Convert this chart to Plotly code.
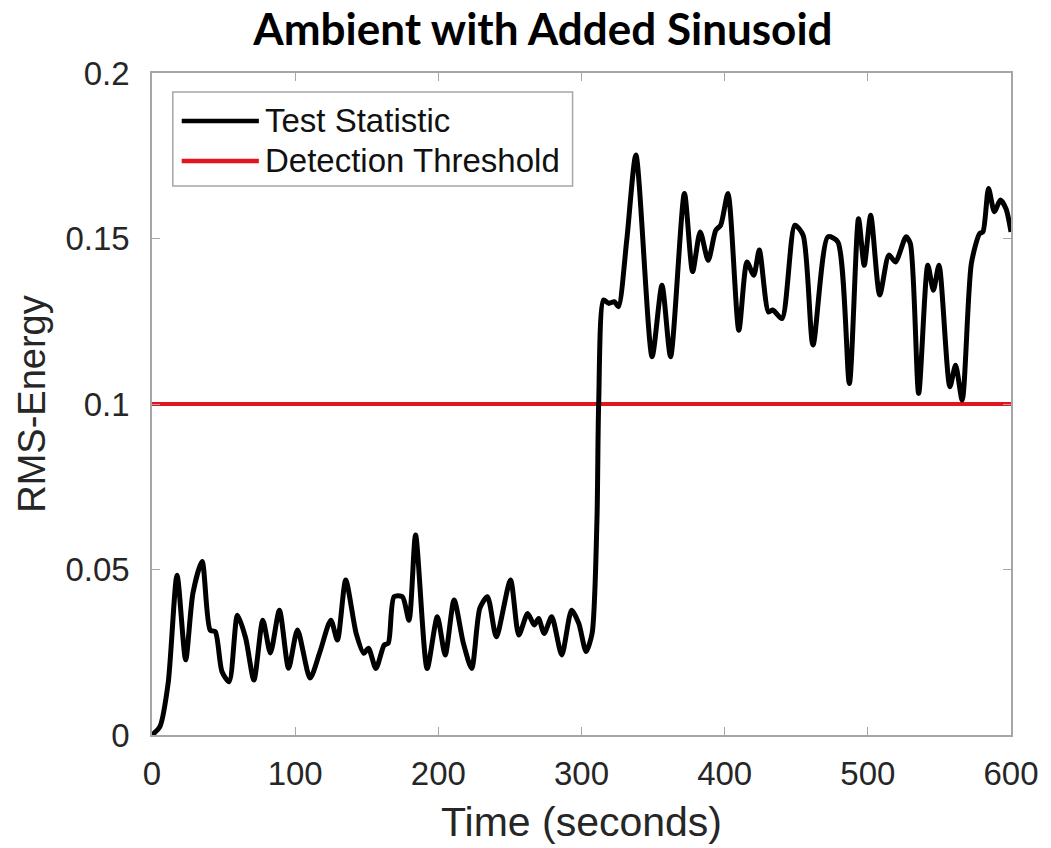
import plotly.graph_objects as go

# Test statistic (RMS energy) over time
time_s = [0, 5.5, 11.3, 17.5, 23.5, 28.6, 35, 40.6, 44.2, 48.9, 53.9, 59.7, 65.4, 71.2,
          77.4, 82.7, 89, 95.4, 101.6, 110.4, 117.3, 124.9, 129.5, 135.3, 142.6, 147.9,
          151.2, 156.4, 162.2, 165, 169.1, 174.9, 179.5, 184.1, 192.2, 199.3, 204.8,
          211, 217.5, 223.3, 229, 234.3, 240.5, 250.4, 256.2, 262.4, 267, 270, 273.9,
          279.2, 286.2, 293.1, 298.1, 303.2, 307.4, 310.8, 312, 315.4, 318.9, 323,
          325.8, 331.6, 338, 349.3, 356.2, 362.2, 371.9, 377.6, 382.9, 388.5, 393.8,
          397.2, 402.3, 409.9, 415.6, 420.3, 424.2, 430.6, 433.6, 440, 449, 454.8,
          461.7, 472.1, 479, 487.1, 493.5, 497.5, 502, 508.3, 514.7, 519.3, 526.7,
          529.7, 535.5, 541.9, 545.8, 549.7, 557.3, 561.3, 565.9, 572.3, 578.1, 580.4,
          584.3, 588.4, 592.6, 596.5, 600]
rms_energy = [0, 0.0025, 0.0157, 0.0483, 0.0227, 0.0429, 0.0524, 0.0317, 0.0312, 0.0191,
              0.0161, 0.0362, 0.0293, 0.0166, 0.0347, 0.0248, 0.0377, 0.0202, 0.0317,
              0.0172, 0.0251, 0.0347, 0.0287, 0.0468, 0.0307, 0.0247, 0.0262, 0.0201,
              0.0272, 0.0277, 0.0418, 0.0418, 0.0347, 0.0604, 0.0201, 0.0357, 0.0242,
              0.0408, 0.0277, 0.0201, 0.0383, 0.0418, 0.0297, 0.0468, 0.0302, 0.0367,
              0.0332, 0.0352, 0.0307, 0.0357, 0.0242, 0.0377, 0.0337, 0.0252, 0.0307,
              0.065, 0.1002, 0.1314, 0.1304, 0.1309, 0.1294, 0.1495, 0.1752, 0.1143,
              0.1359, 0.1143, 0.1636, 0.1400, 0.1520, 0.1434, 0.1525, 0.1540, 0.1636,
              0.1223, 0.1429, 0.1389, 0.1465, 0.1278, 0.1284, 0.1258, 0.1540, 0.1510,
              0.1178, 0.1505, 0.1490, 0.1062, 0.1560, 0.1419, 0.1570, 0.1329, 0.1450,
              0.1429, 0.1505, 0.1485, 0.1032, 0.1419, 0.1344, 0.1419, 0.1052, 0.1117,
              0.1012, 0.1424, 0.1515, 0.1520, 0.1651, 0.1581, 0.1616, 0.1590, 0.152]

threshold = 0.1
x_range = [0, 600]
y_range = [0, 0.2]
x_ticks = [0, 100, 200, 300, 400, 500, 600]
y_ticks = [0, 0.05, 0.1, 0.15, 0.2]
y_tick_text = ["0", "0.05", "0.1", "0.15", "0.2"]
series_names = ["Test Statistic", "Detection Threshold"]
series_colors = ["#000000", "#e3141c"]

AXIS_GRAY = "#a6a6a6"
TEXT_GRAY = "#262626"
LABEL_FONT = "Liberation Sans, Arial, sans-serif"

fig = go.Figure()

fig.add_trace(go.Scatter(
    x=x_range, y=[threshold, threshold], mode="lines",
    line=dict(color=series_colors[1], width=4), showlegend=False,
))
fig.add_trace(go.Scatter(
    x=time_s, y=rms_energy, mode="lines",
    line=dict(color=series_colors[0], width=5, shape="spline", smoothing=0.7),
    showlegend=False,
))

# Legend box drawn in plot-area (paper) coordinates
fig.add_shape(type="rect", xref="paper", yref="paper",
              x0=0.0242, x1=0.4896, y0=0.8293, y1=0.9713,
              line=dict(color=AXIS_GRAY, width=1.5), fillcolor="white", layer="above")
legend_rows = [0.9275, 0.8671]
for name, color, yy in zip(series_names, series_colors, legend_rows):
    fig.add_shape(type="line", xref="paper", yref="paper",
                  x0=0.0346, x1=0.1244, y0=yy, y1=yy,
                  line=dict(color=color, width=4.5), layer="above")
    fig.add_annotation(x=0.1290, y=yy, xref="paper", yref="paper",
                       text=name, showarrow=False, xanchor="left", yanchor="middle",
                       font=dict(family=LABEL_FONT, size=33, color="#111111"))

# x-axis title placed under the tick labels
fig.add_annotation(x=0.5, y=-0.1314, xref="paper", yref="paper",
                   text="Time (seconds)", showarrow=False,
                   xanchor="center", yanchor="middle",
                   font=dict(family=LABEL_FONT, size=41, color=TEXT_GRAY))

axis_common = dict(
    showline=True, linecolor=AXIS_GRAY, linewidth=1.5, mirror="ticks",
    ticks="inside", ticklen=8, tickwidth=1.2, tickcolor=AXIS_GRAY,
    showgrid=False, zeroline=False,
    tickfont=dict(family=LABEL_FONT, size=33, color=TEXT_GRAY),
)

fig.update_xaxes(range=x_range, tickvals=x_ticks, ticklabelstandoff=9, **axis_common)
fig.update_yaxes(range=y_range, tickvals=y_ticks, ticktext=y_tick_text,
                 ticklabelstandoff=14,
                 title=dict(text="RMS-Energy", standoff=8,
                            font=dict(family=LABEL_FONT, size=38, color=TEXT_GRAY)),
                 **axis_common)

fig.update_layout(
    width=1051, height=848,
    margin=dict(l=152, r=31, t=73, b=113),
    paper_bgcolor="white", plot_bgcolor="white",
    title=dict(text="<b>Ambient with Added Sinusoid</b>", x=0.455, xref="paper",
               y=1 - 30 / 848, yref="container", yanchor="middle", xanchor="center",
               font=dict(family="Lato, sans-serif", size=44, color="#000000")),
)

fig.write_html("out.html")
